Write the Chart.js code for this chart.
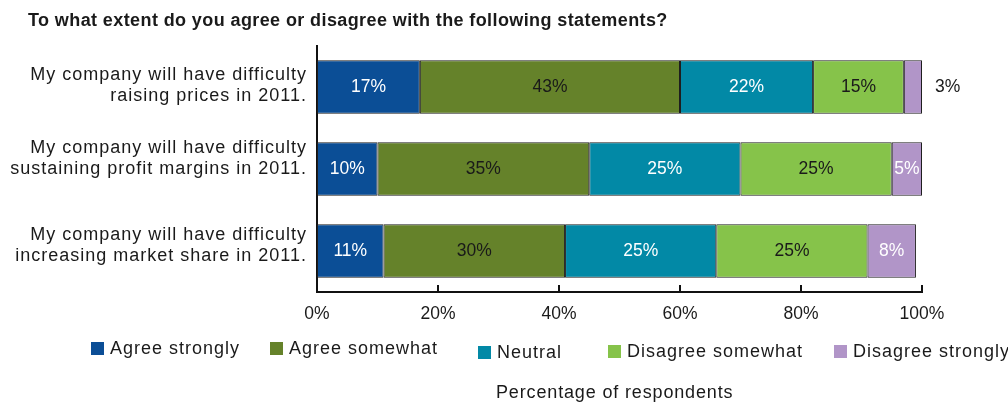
<!DOCTYPE html>
<html>
<head>
<meta charset="utf-8">
<title>Agree or disagree</title>
<script src="https://cdn.jsdelivr.net/npm/chart.js@4.4.1/dist/chart.umd.min.js"></script>
<style>
    body { margin: 0; background: #fff; }
    #wrap { position: relative; width: 1008px; height: 402px; overflow: hidden;
            font-family: "Liberation Sans", Arial, sans-serif; color: #1a1a1a; }
    #title { position: absolute; left: 28px; top: 9px; font-size: 18px; font-weight: bold;
             letter-spacing: 0.4px; white-space: nowrap; line-height: 22px; }
    .lg { position: absolute; font-size: 18px; letter-spacing: 1px; white-space: nowrap; line-height: 20px; }
    .lg i { display: inline-block; width: 13px; height: 13px; margin-right: 6px; vertical-align: -1px; }
    #xtitle { position: absolute; left: 496px; top: 381px; font-size: 18px; letter-spacing: 0.85px;
              white-space: nowrap; line-height: 22px; }
    canvas { position: absolute; left: 0; top: 0; }
</style>
</head>
<body>
<div id="wrap">
    <canvas id="chart" width="1008" height="402"></canvas>
    <div id="title">To what extent do you agree or disagree with the following statements?</div>
    <div id="legend"></div>
    <div id="xtitle">Percentage of respondents</div>
</div>
<script>
/* =========================
   DATA
========================= */
const statements = [
    ["My company will have difficulty", "raising prices in 2011."],
    ["My company will have difficulty", "sustaining profit margins in 2011."],
    ["My company will have difficulty", "increasing market share in 2011."]
];
const responses = ["Agree strongly", "Agree somewhat", "Neutral", "Disagree somewhat", "Disagree strongly"];

const agreeStrongly    = [17, 10, 11];
const agreeSomewhat    = [43, 35, 30];
const neutral          = [22, 25, 25];
const disagreeSomewhat = [15, 25, 25];
const disagreeStrongly = [3, 5, 8];

const xTicks = [0, 20, 40, 60, 80, 100];

/* =========================
   STYLE
========================= */
const FONT = '"Liberation Sans", Arial, sans-serif';
const colors = ["#0b4e96", "#65822a", "#0289a6", "#86c34a", "#b195c8"];
const labelColors = ["#fff", "#1a1a1a", "#fff", "#1a1a1a", "#fff"];
const legendLeft = [91, 270, 478, 608, 834];
const legendTop = [338, 338, 342, 341, 341];
const rowLabelNudge = [-1, -10, -5];   // category text sits a bit above some bars

/* =========================
   HTML LEGEND
========================= */
const legend = document.getElementById("legend");
responses.forEach((name, i) => {
    const el = document.createElement("div");
    el.className = "lg";
    el.style.left = legendLeft[i] + "px";
    el.style.top = legendTop[i] + "px";
    el.innerHTML = `<i style="background:${colors[i]}"></i>${name}`;
    legend.appendChild(el);
});

/* =========================
   PLUGINS
========================= */
// short tick marks rising from the bottom axis line
const upTicks = {
    id: "upTicks",
    afterDatasetsDraw(chart) {
        const { ctx, scales: { x }, chartArea } = chart;
        ctx.save();
        ctx.strokeStyle = "#111";
        ctx.lineWidth = 2;
        xTicks.forEach(v => {
            const px = Math.round(x.getPixelForValue(v));
            ctx.beginPath();
            ctx.moveTo(px, chartArea.bottom - 7);
            ctx.lineTo(px, chartArea.bottom);
            ctx.stroke();
        });
        ctx.restore();
    }
};

// two-line category text, right aligned against the y axis
const rowLabels = {
    id: "rowLabels",
    afterDraw(chart) {
        const { ctx, scales: { y }, chartArea } = chart;
        ctx.save();
        ctx.font = `18px ${FONT}`;
        ctx.letterSpacing = "1px";
        ctx.fillStyle = "#1a1a1a";
        ctx.textAlign = "right";
        ctx.textBaseline = "middle";
        statements.forEach((lines, i) => {
            const cy = y.getPixelForValue(i) + rowLabelNudge[i];
            lines.forEach((t, k) => {
                ctx.fillText(t, chartArea.left - 10, cy + (k - (lines.length - 1) / 2) * 21);
            });
        });
        ctx.restore();
    }
};

// percentage labels inside each segment (outside if too narrow)
const segLabels = {
    id: "segLabels",
    afterDatasetsDraw(chart) {
        const { ctx } = chart;
        ctx.save();
        ctx.font = `17.5px ${FONT}`;
        ctx.textBaseline = "middle";
        chart.data.datasets.forEach((ds, di) => {
            chart.getDatasetMeta(di).data.forEach((bar, i) => {
                const v = ds.data[i];
                const w = bar.x - bar.base;
                if (w < 24) {
                    ctx.fillStyle = "#1a1a1a";
                    ctx.textAlign = "left";
                    ctx.fillText(v + "%", bar.x + 13, bar.y);
                } else {
                    ctx.fillStyle = labelColors[di];
                    ctx.textAlign = "center";
                    ctx.fillText(v + "%", (bar.x + bar.base) / 2, bar.y);
                }
            });
        });
        ctx.restore();
    }
};

/* =========================
   CHART
========================= */
const series = [agreeStrongly, agreeSomewhat, neutral, disagreeSomewhat, disagreeStrongly];

new Chart(document.getElementById("chart"), {
    type: "bar",
    data: {
        labels: statements,
        datasets: series.map((data, i) => ({
            label: responses[i],
            data,
            backgroundColor: colors[i],
            borderColor: "#1e1e1e",
            borderWidth: 1,
            borderSkipped: false,
            categoryPercentage: 1,
            barPercentage: 0.65
        }))
    },
    options: {
        indexAxis: "y",
        responsive: false,
        animation: false,
        layout: { padding: { left: 0, right: 86, top: 46, bottom: 0 } },
        plugins: {
            legend: { display: false },
            tooltip: { enabled: false }
        },
        scales: {
            x: {
                stacked: true,
                min: 0,
                max: 100,
                afterFit: s => { s.height = 110; },
                afterBuildTicks: s => { s.ticks = xTicks.map(v => ({ value: v })); },
                grid: { display: false, drawTicks: false },
                border: { display: true, color: "#111", width: 2 },
                ticks: {
                    padding: 12,
                    color: "#1a1a1a",
                    font: { family: FONT, size: 17.5 },
                    maxRotation: 0,
                    callback: v => v + "%"
                }
            },
            y: {
                stacked: true,
                afterFit: s => { s.width = 317; },
                grid: { display: false, drawTicks: false },
                border: { display: true, color: "#111", width: 2 },
                ticks: { display: false }
            }
        }
    },
    plugins: [upTicks, segLabels, rowLabels]
});
</script>
</body>
</html>
